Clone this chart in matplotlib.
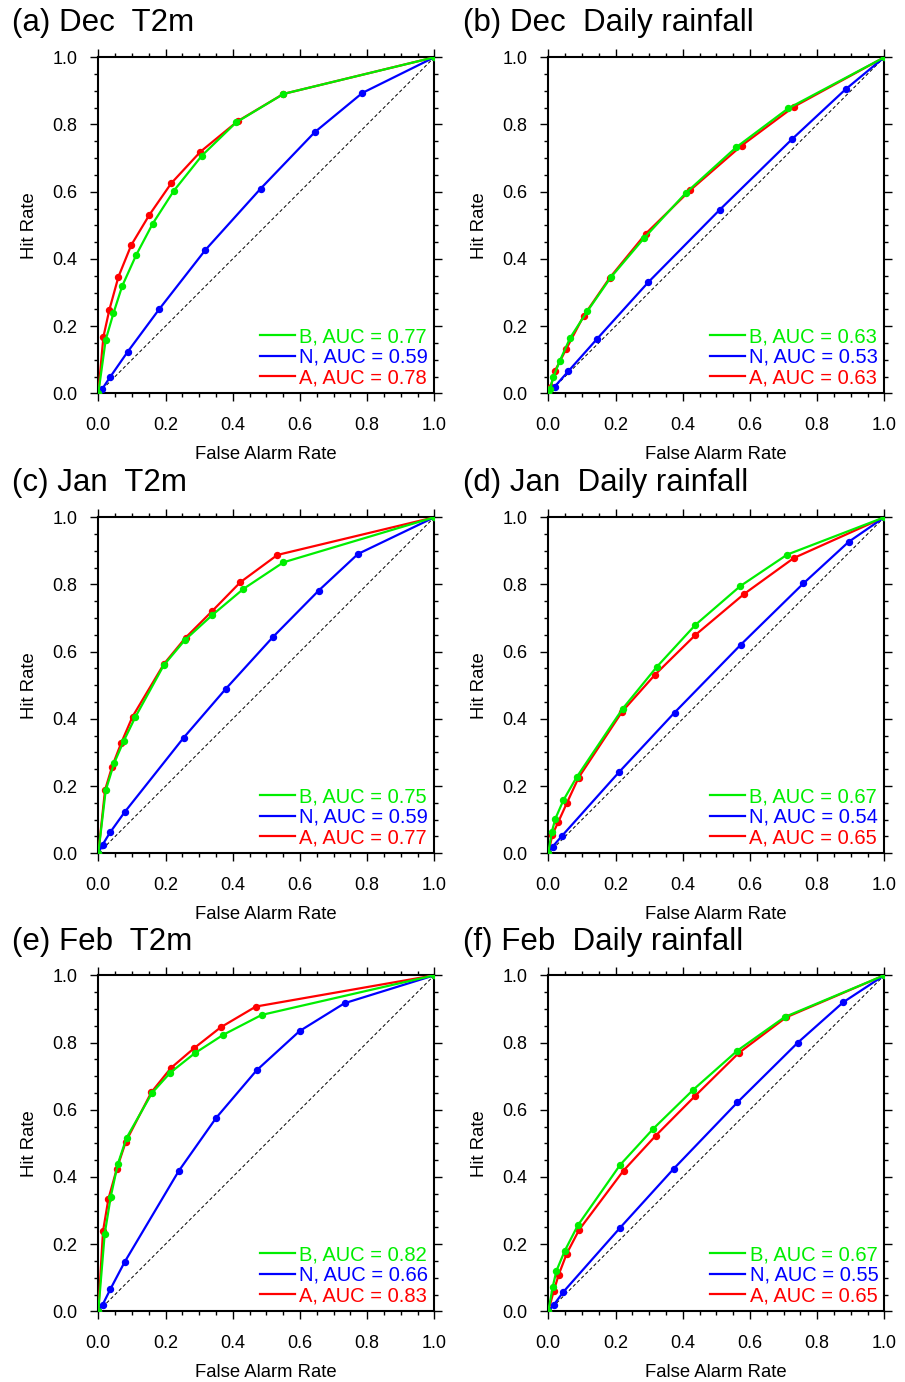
import matplotlib
matplotlib.use("Agg")
import matplotlib.pyplot as plt
from matplotlib.lines import Line2D
from matplotlib.ticker import MultipleLocator

plt.rcParams['font.family'] = ['Liberation Sans', 'DejaVu Sans']

# ---------------- data (False Alarm Rate, Hit Rate) ----------------
# (a) Dec T2m
a_B_far = [0.0, 0.022, 0.045, 0.071, 0.113, 0.162, 0.225, 0.308, 0.410, 0.551, 1.0]
a_B_hr  = [0.0, 0.159, 0.238, 0.319, 0.412, 0.505, 0.603, 0.707, 0.806, 0.891, 1.0]
a_N_far = [0.0, 0.011, 0.035, 0.087, 0.181, 0.319, 0.483, 0.644, 0.786, 1.0]
a_N_hr  = [0.0, 0.012, 0.048, 0.123, 0.250, 0.427, 0.609, 0.777, 0.894, 1.0]
a_A_far = [0.0, 0.015, 0.033, 0.060, 0.098, 0.152, 0.217, 0.304, 0.415, 0.551, 1.0]
a_A_hr  = [0.0, 0.167, 0.249, 0.347, 0.441, 0.531, 0.625, 0.719, 0.810, 0.891, 1.0]
a_auc = ["0.77", "0.59", "0.78"]

# (b) Dec Daily rainfall
b_B_far = [0.0, 0.005, 0.015, 0.034, 0.065, 0.116, 0.186, 0.286, 0.410, 0.559, 0.714, 1.0]
b_B_hr  = [0.0, 0.012, 0.048, 0.096, 0.165, 0.244, 0.345, 0.463, 0.597, 0.732, 0.848, 1.0]
b_N_far = [0.0, 0.019, 0.059, 0.146, 0.298, 0.511, 0.725, 0.885, 1.0]
b_N_hr  = [0.0, 0.020, 0.065, 0.163, 0.331, 0.547, 0.756, 0.905, 1.0]
b_A_far = [0.0, 0.007, 0.020, 0.054, 0.105, 0.183, 0.290, 0.423, 0.575, 0.731, 1.0]
b_A_hr  = [0.0, 0.020, 0.067, 0.133, 0.230, 0.344, 0.475, 0.605, 0.737, 0.853, 1.0]
b_auc = ["0.63", "0.53", "0.63"]

# (c) Jan T2m
c_B_far = [0.0, 0.022, 0.047, 0.076, 0.110, 0.195, 0.258, 0.338, 0.432, 0.551, 1.0]
c_B_hr  = [0.0, 0.187, 0.268, 0.335, 0.405, 0.560, 0.635, 0.708, 0.787, 0.866, 1.0]
c_N_far = [0.0, 0.013, 0.035, 0.078, 0.254, 0.379, 0.520, 0.656, 0.773, 1.0]
c_N_hr  = [0.0, 0.026, 0.062, 0.122, 0.344, 0.489, 0.644, 0.782, 0.891, 1.0]
c_A_far = [0.0, 0.020, 0.041, 0.068, 0.102, 0.195, 0.260, 0.338, 0.423, 0.533, 1.0]
c_A_hr  = [0.0, 0.188, 0.258, 0.328, 0.407, 0.563, 0.642, 0.720, 0.807, 0.888, 1.0]
c_auc = ["0.75", "0.59", "0.77"]

# (d) Jan Daily rainfall
d_B_far = [0.0, 0.010, 0.021, 0.045, 0.084, 0.221, 0.323, 0.438, 0.571, 0.711, 1.0]
d_B_hr  = [0.0, 0.062, 0.103, 0.158, 0.226, 0.430, 0.555, 0.680, 0.795, 0.889, 1.0]
d_N_far = [0.0, 0.013, 0.040, 0.210, 0.376, 0.573, 0.759, 0.894, 1.0]
d_N_hr  = [0.0, 0.020, 0.051, 0.241, 0.419, 0.621, 0.803, 0.927, 1.0]
d_A_far = [0.0, 0.012, 0.030, 0.055, 0.090, 0.220, 0.318, 0.438, 0.583, 0.731, 1.0]
d_A_hr  = [0.0, 0.055, 0.094, 0.149, 0.225, 0.422, 0.532, 0.650, 0.772, 0.879, 1.0]
d_auc = ["0.67", "0.54", "0.65"]

# (e) Feb T2m
e_B_far = [0.0, 0.019, 0.037, 0.058, 0.084, 0.160, 0.214, 0.287, 0.372, 0.486, 1.0]
e_B_hr  = [0.0, 0.230, 0.341, 0.438, 0.516, 0.650, 0.710, 0.768, 0.823, 0.882, 1.0]
e_N_far = [0.0, 0.013, 0.036, 0.078, 0.239, 0.351, 0.471, 0.599, 0.733, 1.0]
e_N_hr  = [0.0, 0.020, 0.066, 0.146, 0.417, 0.576, 0.717, 0.834, 0.917, 1.0]
e_A_far = [0.0, 0.014, 0.030, 0.055, 0.082, 0.158, 0.216, 0.285, 0.364, 0.469, 1.0]
e_A_hr  = [0.0, 0.238, 0.334, 0.424, 0.505, 0.652, 0.724, 0.783, 0.845, 0.907, 1.0]
e_auc = ["0.82", "0.66", "0.83"]

# (f) Feb Daily rainfall
f_B_far = [0.0, 0.013, 0.024, 0.049, 0.088, 0.214, 0.313, 0.432, 0.563, 0.704, 1.0]
f_B_hr  = [0.0, 0.072, 0.120, 0.180, 0.256, 0.436, 0.544, 0.660, 0.776, 0.876, 1.0]
f_N_far = [0.0, 0.017, 0.045, 0.214, 0.373, 0.563, 0.743, 0.878, 1.0]
f_N_hr  = [0.0, 0.020, 0.058, 0.249, 0.424, 0.622, 0.800, 0.920, 1.0]
f_A_far = [0.0, 0.016, 0.031, 0.055, 0.092, 0.224, 0.320, 0.438, 0.567, 0.708, 1.0]
f_A_hr  = [0.0, 0.060, 0.109, 0.172, 0.243, 0.419, 0.523, 0.642, 0.769, 0.875, 1.0]
f_auc = ["0.67", "0.55", "0.65"]

titles = ["(a) Dec  T2m", "(b) Dec  Daily rainfall",
          "(c) Jan  T2m", "(d) Jan  Daily rainfall",
          "(e) Feb  T2m", "(f) Feb  Daily rainfall"]
series_names = ["B", "N", "A"]
tick_labels = ["0.0", "0.2", "0.4", "0.6", "0.8", "1.0"]

panels = [
    (a_B_far, a_B_hr, a_N_far, a_N_hr, a_A_far, a_A_hr, a_auc),
    (b_B_far, b_B_hr, b_N_far, b_N_hr, b_A_far, b_A_hr, b_auc),
    (c_B_far, c_B_hr, c_N_far, c_N_hr, c_A_far, c_A_hr, c_auc),
    (d_B_far, d_B_hr, d_N_far, d_N_hr, d_A_far, d_A_hr, d_auc),
    (e_B_far, e_B_hr, e_N_far, e_N_hr, e_A_far, e_A_hr, e_auc),
    (f_B_far, f_B_hr, f_N_far, f_N_hr, f_A_far, f_A_hr, f_auc),
]

# ---------------- styling ----------------
GREEN = '#00ee00'
BLUE = '#0000ff'
RED = '#ff0000'
colors = [GREEN, BLUE, RED]

W, H = 905, 1382
fig = plt.figure(figsize=(W / 100, H / 100), dpi=100)

ax_w = 336 / W
ax_h = 336 / H
lefts = [98.3 / W, 548.3 / W]
bottoms = [1 - 393.3 / H, 1 - 853.3 / H, 1 - 1311.3 / H]
title_x = [12 / W, 463 / W]
title_y = [1 - 31 / H, 1 - 491 / H, 1 - 950 / H]

for i, p in enumerate(panels):
    row, col = divmod(i, 2)
    ax = fig.add_axes([lefts[col], bottoms[row], ax_w, ax_h])
    Bx, By, Nx, Ny, Ax, Ay, auc = p

    ax.plot([0, 1], [0, 1], color='black', lw=0.7, ls=(0, (3.5, 2.5)), zorder=1)
    ax.plot(Ax, Ay, color=RED, lw=1.6, marker='o', ms=4.3, zorder=3)
    ax.plot(Nx, Ny, color=BLUE, lw=1.6, marker='o', ms=4.3, zorder=4)
    ax.plot(Bx, By, color=GREEN, lw=1.6, marker='o', ms=4.3, zorder=5)

    ax.set_xlim(0, 1)
    ax.set_ylim(0, 1)
    ax.xaxis.set_minor_locator(MultipleLocator(0.05))
    ax.yaxis.set_minor_locator(MultipleLocator(0.05))
    ax.set_xticks([0, 0.2, 0.4, 0.6, 0.8, 1.0])
    ax.set_xticklabels(tick_labels)
    ax.set_yticks([0, 0.2, 0.4, 0.6, 0.8, 1.0])
    ax.set_yticklabels(tick_labels)
    ax.tick_params(which='both', direction='out', top=True, right=True,
                   width=1.0, color='black')
    ax.tick_params(which='major', length=6, labelsize=13)
    ax.tick_params(axis='x', which='major', pad=11)
    ax.tick_params(axis='y', which='major', pad=9)
    ax.tick_params(which='minor', length=3.2)
    for s in ax.spines.values():
        s.set_linewidth(1.5)

    ax.set_xlabel("False Alarm Rate", fontsize=13.3, labelpad=9)
    ax.set_ylabel("Hit Rate", fontsize=13.3, labelpad=10)

    handles = [Line2D([0], [0], color=c, lw=1.6) for c in colors]
    labels = [f"{n}, AUC = {v}" for n, v in zip(series_names, auc)]
    leg = ax.legend(handles, labels, loc='lower right', frameon=False,
                    fontsize=14.5, handlelength=1.75, handletextpad=0.2,
                    labelspacing=0.08, borderpad=0.0, borderaxespad=0.3)
    for t, c in zip(leg.get_texts(), colors):
        t.set_color(c)

    fig.text(title_x[col], title_y[row], titles[i], fontsize=22.5,
             ha='left', va='baseline')

fig.savefig("out.png", dpi=100)
